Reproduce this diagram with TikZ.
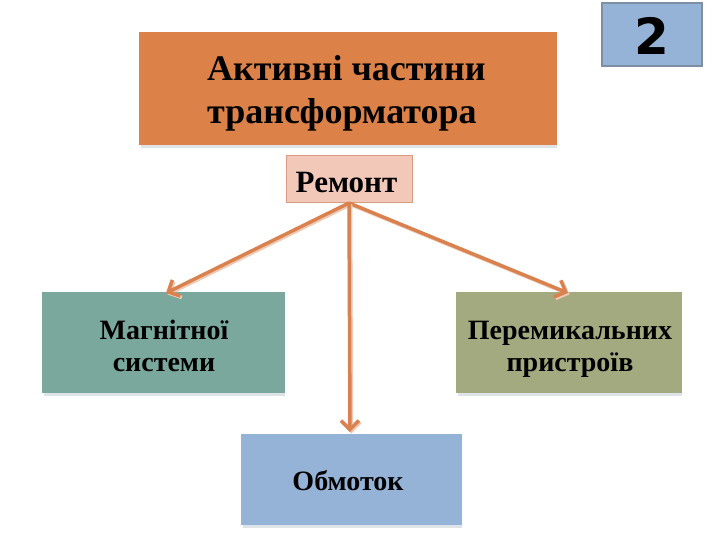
\documentclass[tikz,border=0pt]{standalone}
\usepackage{fontspec}
\setmainfont{Liberation Serif}
\newfontfamily\numfont{DejaVu Sans}
\usetikzlibrary{arrows.meta}
\definecolor{titleor}{HTML}{DC8148}
\definecolor{remfill}{HTML}{F2C9B9}
\definecolor{remedge}{HTML}{D99A7E}
\definecolor{bluebox}{HTML}{95B3D7}
\definecolor{blueedge}{HTML}{7F8FA3}
\definecolor{tealbox}{HTML}{7BA89D}
\definecolor{olivebox}{HTML}{A4AA80}
\definecolor{arrowor}{HTML}{D98250}
\definecolor{arrowlt}{HTML}{EFC9B2}
\definecolor{shadowc}{HTML}{DDE3E6}
\tikzset{
  boxst/.style={draw=none, inner sep=0pt, align=center, font=\bfseries},
  txt/.style={inner sep=0pt, align=center, anchor=base, font=\bfseries\fontsize{28}{32}\selectfont},
  conn/.style={draw=arrowor, line width=3.5pt, -{Straight Barb[length=9pt,width=18pt,line width=3.5pt]}},
  connbg/.style={draw=arrowlt, line width=3.5pt, -{Straight Barb[length=9pt,width=18pt,line width=3.5pt]}}
}
\begin{document}
\begin{tikzpicture}[x=1pt,y=-1pt]
\useasboundingbox (0,0) rectangle (720,540);
% title
\fill[shadowc] (141,145) rectangle (557,148);
\node[boxst, fill=titleor, minimum width=418pt, minimum height=113pt] (titlebox) at (348,88.5) {};
\node[boxst, anchor=base west, align=left, font=\bfseries\fontsize{36}{43}\selectfont] (title) at (207,123.5) {Активні частини\\трансформатора};
% number box
\node[boxst, draw=blueedge, line width=2pt, fill=bluebox, minimum width=100pt, minimum height=63pt] (num) at (652,35) {};
\node[boxst, font=\numfont\bfseries\fontsize{50}{50}\selectfont] (numtxt) at (652,36) {2};
% remont
\node[boxst, draw=remedge, line width=1pt, fill=remfill, minimum width=126pt, minimum height=47pt] (rem) at (349,179.5) {};
\node[boxst, anchor=base, font=\bfseries\fontsize{31}{34}\selectfont] (remtxt) at (346.5,193) {Ремонт};
% bottom boxes
\fill[shadowc] (44,393) rectangle (285,396);
\fill[shadowc] (458,393) rectangle (682,396);
\fill[shadowc] (243,525) rectangle (462,528);
\node[boxst, fill=tealbox, minimum width=243pt, minimum height=101pt] (mag) at (163.5,342.5) {};
\node[boxst, fill=olivebox, minimum width=226pt, minimum height=101pt] (per) at (569,342.5) {};
\node[boxst, fill=bluebox, minimum width=221pt, minimum height=91pt] (obm) at (351.5,479.5) {};
\node[txt] (magtxt) at (164,371) {Магнітної\\системи};
\node[txt] (pertxt) at (570,371) {Перемикальних\\пристроїв};
\node[txt] (obmtxt) at (348,490) {Обмоток};
% connectors
\coordinate (src) at (349,203);
\coordinate (tm) at (166,293);
\coordinate (tp) at (568,293);
\coordinate (to) at (350,432);
\foreach \t in {tm,tp,to}{
  \draw[connbg, transform canvas={xshift=1.5pt,yshift=-1.5pt}] (src) -- (\t);
  \draw[conn] (src) -- (\t);
}
\end{tikzpicture}
\end{document}
